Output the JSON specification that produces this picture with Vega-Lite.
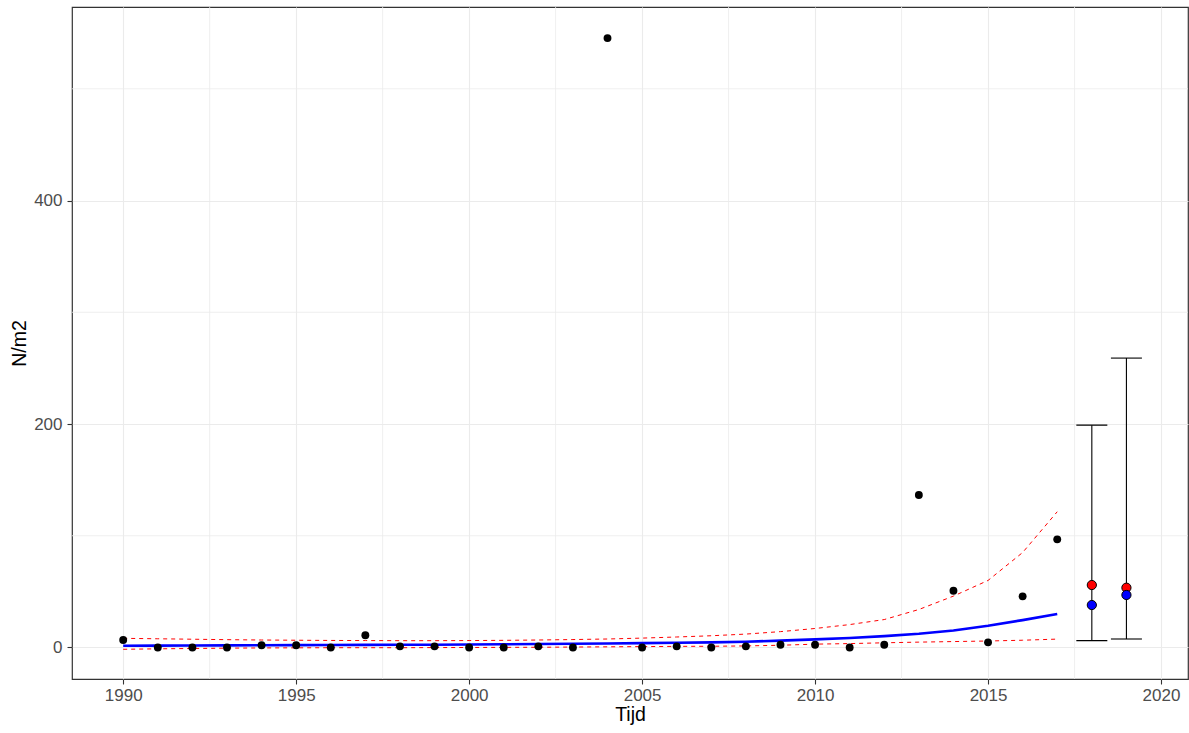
{
  "$schema": "https://vega.github.io/schema/vega-lite/v6.json",
  "width": 1116,
  "height": 672,
  "autosize": {"type": "none"},
  "padding": {"left": 72, "top": 7, "right": 1, "bottom": 54},
  "background": "white",
  "config": {
    "font": "Liberation Sans",
    "view": {"stroke": "#333333", "strokeWidth": 1.2},
    "axis": {
      "domain": false,
      "grid": true,
      "gridColor": "#EBEBEB",
      "gridWidth": 1.1,
      "tickColor": "#333333",
      "tickSize": 5,
      "tickWidth": 1.1,
      "labelColor": "#4D4D4D",
      "labelFontSize": 17,
      "labelFont": "Liberation Sans",
      "titleFont": "Liberation Sans",
      "titleFontSize": 19.5,
      "titleFontWeight": "normal",
      "titleColor": "#000000"
    }
  },
  "datasets": {
    "obs": [
      {"jaar": 1990, "n": 6.7}, {"jaar": 1991, "n": 0}, {"jaar": 1992, "n": 0},
      {"jaar": 1993, "n": 0}, {"jaar": 1994, "n": 2}, {"jaar": 1995, "n": 2},
      {"jaar": 1996, "n": 0}, {"jaar": 1997, "n": 11}, {"jaar": 1998, "n": 1},
      {"jaar": 1999, "n": 1}, {"jaar": 2000, "n": 0}, {"jaar": 2001, "n": 0},
      {"jaar": 2002, "n": 1}, {"jaar": 2003, "n": 0}, {"jaar": 2004, "n": 545.4},
      {"jaar": 2005, "n": 0}, {"jaar": 2006, "n": 1}, {"jaar": 2007, "n": 0},
      {"jaar": 2008, "n": 1}, {"jaar": 2009, "n": 2.5}, {"jaar": 2010, "n": 2.5},
      {"jaar": 2011, "n": 0}, {"jaar": 2012, "n": 2.5}, {"jaar": 2013, "n": 136.5},
      {"jaar": 2014, "n": 50.8}, {"jaar": 2015, "n": 4.6}, {"jaar": 2016, "n": 45.8},
      {"jaar": 2017, "n": 96.8}
    ],
    "fit": [
      {"jaar": 1990, "fit": 1.6, "lo": -1.6, "hi": 8.2},
      {"jaar": 1991, "fit": 1.7, "lo": -1.2, "hi": 7.8},
      {"jaar": 1992, "fit": 1.8, "lo": -0.9, "hi": 7.4},
      {"jaar": 1993, "fit": 1.9, "lo": -0.6, "hi": 7.0},
      {"jaar": 1994, "fit": 2.0, "lo": -0.4, "hi": 6.7},
      {"jaar": 1995, "fit": 2.1, "lo": -0.3, "hi": 6.5},
      {"jaar": 1996, "fit": 2.2, "lo": -0.2, "hi": 6.3},
      {"jaar": 1997, "fit": 2.3, "lo": -0.2, "hi": 6.2},
      {"jaar": 1998, "fit": 2.4, "lo": -0.2, "hi": 6.1},
      {"jaar": 1999, "fit": 2.5, "lo": -0.1, "hi": 6.1},
      {"jaar": 2000, "fit": 2.7, "lo": 0.0, "hi": 6.2},
      {"jaar": 2001, "fit": 2.9, "lo": 0.1, "hi": 6.4},
      {"jaar": 2002, "fit": 3.1, "lo": 0.2, "hi": 6.7},
      {"jaar": 2003, "fit": 3.3, "lo": 0.4, "hi": 7.1},
      {"jaar": 2004, "fit": 3.6, "lo": 0.6, "hi": 7.6},
      {"jaar": 2005, "fit": 3.9, "lo": 0.8, "hi": 8.4},
      {"jaar": 2006, "fit": 4.2, "lo": 1.0, "hi": 9.4},
      {"jaar": 2007, "fit": 4.6, "lo": 1.1, "hi": 10.5},
      {"jaar": 2008, "fit": 5.2, "lo": 1.4, "hi": 12.0},
      {"jaar": 2009, "fit": 6.1, "lo": 2.0, "hi": 14.2},
      {"jaar": 2010, "fit": 7.3, "lo": 3.0, "hi": 17.0},
      {"jaar": 2011, "fit": 8.5, "lo": 3.5, "hi": 20.5},
      {"jaar": 2012, "fit": 10.2, "lo": 4.2, "hi": 25.0},
      {"jaar": 2013, "fit": 12.3, "lo": 4.8, "hi": 34.0},
      {"jaar": 2014, "fit": 15.2, "lo": 5.3, "hi": 46.0},
      {"jaar": 2015, "fit": 19.5, "lo": 5.8, "hi": 60.0},
      {"jaar": 2016, "fit": 24.5, "lo": 6.5, "hi": 85.0},
      {"jaar": 2017, "fit": 30.0, "lo": 7.5, "hi": 121.5}
    ],
    "err": [
      {"jaar": 2018, "low": 6.1, "high": 199, "rood": 55.9, "blauw": 38},
      {"jaar": 2019, "low": 7.6, "high": 259, "rood": 53.5, "blauw": 47}
    ],
    "minorx": [
      {"v": 1992.5}, {"v": 1997.5}, {"v": 2002.5}, {"v": 2007.5}, {"v": 2012.5}, {"v": 2017.5}
    ],
    "minory": [
      {"v": 100}, {"v": 300}, {"v": 500}
    ]
  },
  "layer": [
    {
      "data": {"name": "minorx"},
      "mark": {"type": "rule", "color": "#EBEBEB", "strokeWidth": 0.8},
      "encoding": {
        "x": {"field": "v", "type": "quantitative", "scale": {"domain": [1988.52, 2020.78], "nice": false, "zero": false},
          "axis": {"title": "Tijd", "values": [1990, 1995, 2000, 2005, 2010, 2015, 2020], "format": "d", "labelPadding": 3, "titlePadding": 2}}
      }
    },
    {
      "data": {"name": "minory"},
      "mark": {"type": "rule", "color": "#EBEBEB", "strokeWidth": 0.8},
      "encoding": {
        "y": {"field": "v", "type": "quantitative", "scale": {"domain": [-28.2, 573.2], "nice": false, "zero": false},
          "axis": {"title": "N/m2", "values": [0, 200, 400], "labelPadding": 5, "titlePadding": 4}}
      }
    },
    {
      "data": {"name": "fit"},
      "mark": {"type": "line", "color": "#FF0000", "strokeWidth": 1, "strokeDash": [4, 4]},
      "encoding": {
        "x": {"field": "jaar", "type": "quantitative"},
        "y": {"field": "hi", "type": "quantitative"}
      }
    },
    {
      "data": {"name": "fit"},
      "mark": {"type": "line", "color": "#FF0000", "strokeWidth": 1, "strokeDash": [4, 4]},
      "encoding": {
        "x": {"field": "jaar", "type": "quantitative"},
        "y": {"field": "lo", "type": "quantitative"}
      }
    },
    {
      "data": {"name": "fit"},
      "mark": {"type": "line", "color": "#0000FF", "strokeWidth": 2.6},
      "encoding": {
        "x": {"field": "jaar", "type": "quantitative"},
        "y": {"field": "fit", "type": "quantitative"}
      }
    },
    {
      "data": {"name": "obs"},
      "mark": {"type": "circle", "color": "#000000", "opacity": 1, "size": 62},
      "encoding": {
        "x": {"field": "jaar", "type": "quantitative"},
        "y": {"field": "n", "type": "quantitative"}
      }
    },
    {
      "data": {"name": "err"},
      "mark": {"type": "rule", "color": "#000000", "strokeWidth": 1.1},
      "encoding": {
        "x": {"field": "jaar", "type": "quantitative"},
        "y": {"field": "low", "type": "quantitative"},
        "y2": {"field": "high"}
      }
    },
    {
      "data": {"name": "err"},
      "mark": {"type": "tick", "orient": "horizontal", "color": "#000000", "size": 31, "thickness": 1.1, "opacity": 1},
      "encoding": {
        "x": {"field": "jaar", "type": "quantitative"},
        "y": {"field": "low", "type": "quantitative"}
      }
    },
    {
      "data": {"name": "err"},
      "mark": {"type": "tick", "orient": "horizontal", "color": "#000000", "size": 31, "thickness": 1.1, "opacity": 1},
      "encoding": {
        "x": {"field": "jaar", "type": "quantitative"},
        "y": {"field": "high", "type": "quantitative"}
      }
    },
    {
      "data": {"name": "err"},
      "mark": {"type": "point", "shape": "circle", "filled": true, "fill": "#FF0000", "stroke": "#000000", "strokeWidth": 1, "opacity": 1, "size": 85},
      "encoding": {
        "x": {"field": "jaar", "type": "quantitative"},
        "y": {"field": "rood", "type": "quantitative"}
      }
    },
    {
      "data": {"name": "err"},
      "mark": {"type": "point", "shape": "circle", "filled": true, "fill": "#0000FF", "stroke": "#000000", "strokeWidth": 1, "opacity": 1, "size": 85},
      "encoding": {
        "x": {"field": "jaar", "type": "quantitative"},
        "y": {"field": "blauw", "type": "quantitative"}
      }
    }
  ]
}
